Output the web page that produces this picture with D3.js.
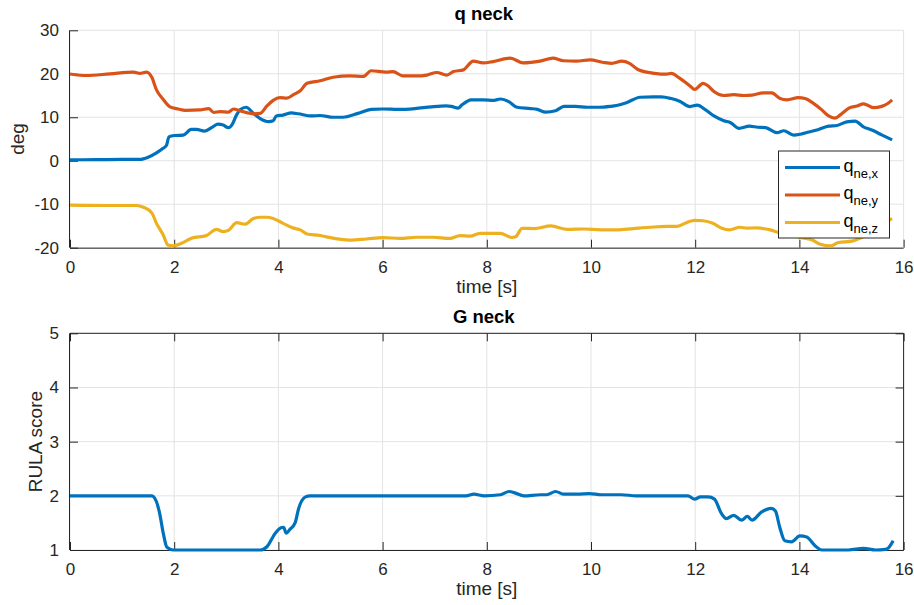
<!DOCTYPE html>
<html>
<head>
<meta charset="utf-8">
<script src="https://d3js.org/d3.v7.min.js"></script>
<style>
  body { margin: 0; background: #fff; }
  svg { font-family: "Liberation Sans", Arial, Helvetica, sans-serif; }
  .grid line { stroke: #e3e3e3; stroke-width: 1; }
  .axis path, .axis line { stroke: #262626; }
  .axis text { fill: #262626; font-size: 17px; }
  .lbl { fill: #262626; font-size: 19px; }
  .ttl { fill: #000; font-size: 18.5px; font-weight: bold; }
</style>
</head>
<body>
<svg id="chart" width="914" height="605"></svg>
<script>
(function() {

// time [s], value
var qneX = [[0,0.2],[0.5,0.25],[1.0,0.3],[1.34,0.3],[1.5,0.8],[1.66,1.8],[1.78,2.8],[1.85,3.5],[1.9,5.5],[2.0,5.8],[2.17,5.9],[2.33,7.2],[2.43,7.2],[2.58,6.8],[2.74,7.8],[2.84,8.4],[2.94,8.2],[3.04,7.6],[3.12,8.5],[3.2,10.6],[3.27,11.8],[3.38,12.3],[3.52,10.9],[3.65,9.7],[3.81,9.0],[3.9,9.2],[3.96,10.3],[4.09,10.5],[4.25,11.0],[4.38,10.8],[4.63,10.3],[4.8,10.4],[5.05,10.0],[5.24,10.0],[5.53,10.9],[5.78,11.8],[6.0,11.9],[6.3,11.8],[6.62,12.0],[6.94,12.4],[7.22,12.6],[7.32,12.5],[7.45,12.1],[7.52,12.8],[7.7,14.0],[7.93,14.0],[8.14,13.9],[8.26,14.2],[8.42,13.6],[8.58,12.3],[8.84,12.0],[8.97,11.8],[9.13,11.2],[9.32,11.5],[9.48,12.5],[9.7,12.5],[9.93,12.3],[10.15,12.3],[10.37,12.5],[10.49,12.7],[10.68,13.35],[10.94,14.6],[11.2,14.7],[11.35,14.7],[11.54,14.3],[11.7,13.7],[11.9,12.45],[12.04,12.8],[12.2,11.7],[12.36,10.3],[12.55,9.2],[12.68,8.75],[12.84,7.45],[13.04,7.95],[13.2,7.7],[13.35,7.6],[13.57,6.45],[13.7,6.9],[13.89,5.9],[14.02,6.1],[14.18,6.6],[14.37,7.2],[14.56,7.95],[14.72,8.1],[14.91,8.95],[15.07,9.1],[15.23,7.8],[15.39,7.05],[15.59,5.9],[15.78,4.8]];

var qneY = [[0,19.95],[0.32,19.6],[0.77,20.0],[1.22,20.4],[1.34,20.1],[1.47,20.4],[1.57,19.2],[1.66,16.3],[1.79,14.1],[1.92,12.4],[2.08,11.9],[2.21,11.6],[2.5,11.7],[2.66,12.0],[2.76,11.1],[2.88,11.3],[3.04,11.2],[3.14,11.9],[3.26,11.5],[3.52,10.8],[3.65,10.9],[3.78,12.6],[3.9,13.9],[4.03,14.5],[4.16,14.4],[4.29,15.2],[4.42,16.1],[4.55,17.8],[4.8,18.4],[5.05,19.2],[5.37,19.5],[5.63,19.4],[5.78,20.7],[6.07,20.4],[6.2,20.5],[6.39,19.5],[6.65,19.5],[6.85,19.7],[7.04,20.3],[7.23,19.7],[7.36,20.5],[7.55,20.9],[7.74,22.9],[7.93,22.5],[8.12,22.8],[8.45,23.6],[8.7,22.5],[9.02,22.9],[9.27,23.6],[9.47,23.0],[9.72,22.9],[9.98,23.2],[10.24,22.6],[10.4,22.4],[10.59,22.9],[10.74,22.4],[10.9,21.0],[11.22,20.1],[11.45,19.9],[11.54,20.1],[11.7,19.0],[11.9,17.2],[11.99,16.4],[12.15,17.8],[12.25,17.2],[12.36,15.9],[12.55,15.0],[12.74,15.2],[12.93,15.0],[13.09,15.1],[13.31,15.6],[13.47,15.6],[13.63,14.3],[13.76,14.0],[13.98,14.5],[14.11,14.3],[14.27,13.2],[14.43,11.7],[14.56,10.3],[14.68,9.8],[14.79,10.6],[14.95,12.1],[15.11,12.6],[15.23,13.1],[15.42,12.2],[15.58,12.5],[15.69,13.1],[15.78,14.0]];

var qneZ = [[0,-10.2],[0.77,-10.3],[1.28,-10.3],[1.41,-10.7],[1.57,-12.0],[1.66,-14.4],[1.79,-17.1],[1.88,-19.4],[1.98,-19.6],[2.14,-19.0],[2.33,-17.85],[2.62,-17.2],[2.81,-15.8],[2.94,-16.3],[3.04,-16.0],[3.2,-14.25],[3.36,-14.6],[3.52,-13.3],[3.65,-13.0],[3.78,-13.0],[3.9,-13.3],[4.09,-14.4],[4.29,-15.5],[4.42,-15.9],[4.55,-16.85],[4.8,-17.2],[4.92,-17.5],[5.37,-18.25],[5.69,-18.0],[6.01,-17.7],[6.33,-17.85],[6.65,-17.6],[6.97,-17.6],[7.29,-17.85],[7.49,-17.2],[7.68,-17.35],[7.87,-16.7],[8.26,-16.7],[8.48,-17.65],[8.55,-17.5],[8.68,-15.55],[8.91,-15.6],[9.23,-15.0],[9.55,-15.8],[9.87,-15.7],[10.2,-15.9],[10.49,-15.9],[10.81,-15.6],[11.13,-15.3],[11.45,-15.1],[11.64,-15.1],[11.83,-14.25],[11.99,-13.7],[12.15,-13.8],[12.34,-14.4],[12.5,-15.45],[12.66,-15.9],[12.86,-15.3],[12.99,-15.5],[13.18,-15.45],[13.44,-15.9],[13.6,-16.5],[13.8,-17.0],[14.0,-17.6],[14.25,-18.25],[14.4,-19.2],[14.6,-19.6],[14.75,-18.8],[15.01,-18.5],[15.2,-17.6],[15.4,-16.5],[15.6,-14.5],[15.78,-13.3]];

var gNeck = [[0,2],[1.57,2],[1.66,1.89],[1.72,1.68],[1.79,1.31],[1.86,1.05],[1.98,1.0],[3.65,1.0],[3.78,1.06],[3.94,1.31],[4.05,1.41],[4.1,1.42],[4.15,1.31],[4.22,1.38],[4.32,1.5],[4.39,1.77],[4.52,1.98],[4.61,2.0],[7.6,2.0],[7.75,2.03],[7.95,2.0],[8.26,2.02],[8.43,2.08],[8.55,2.05],[8.71,2.0],[9.03,2.02],[9.15,2.02],[9.32,2.08],[9.48,2.03],[9.74,2.03],[9.97,2.04],[10.2,2.02],[10.58,2.02],[10.87,2.0],[11.86,2.0],[11.99,1.94],[12.1,1.98],[12.25,1.98],[12.37,1.94],[12.5,1.68],[12.6,1.58],[12.74,1.64],[12.89,1.55],[13.0,1.62],[13.09,1.55],[13.27,1.7],[13.46,1.77],[13.54,1.72],[13.62,1.43],[13.72,1.17],[13.85,1.15],[14.01,1.26],[14.14,1.24],[14.3,1.08],[14.43,1.0],[14.94,1.0],[15.23,1.03],[15.46,1.0],[15.65,1.01],[15.71,1.04],[15.8,1.17]];

var seriesNames = ["ne,x", "ne,y", "ne,z"];
var colors = ["#0072BD", "#D95319", "#EDB120"];

var xTicks = [0, 2, 4, 6, 8, 10, 12, 14, 16];
var qTicks = [-20, -10, 0, 10, 20, 30];
var gTicks = [1, 2, 3, 4, 5];

var svg = d3.select("#chart");

var left = 70, right = 903.6, tickLen = 8;
var fmt = function(d) { return String(d); }; // plain hyphen minus

var x = d3.scaleLinear().domain([0, 16]).range([left, right]);
var yq = d3.scaleLinear().domain([-20, 30]).range([247.7, 30.3]);
var yg = d3.scaleLinear().domain([1, 5]).range([550, 333.3]);

function drawAxes(y, yTicks, boxOn, title, ylabel, ylabelX) {
  var top = y.range()[1], bottom = y.range()[0];
  var g = svg.append("g");

  // grid
  var grid = g.append("g").attr("class", "grid");
  grid.selectAll(".gx").data(xTicks).enter().append("line")
      .attr("x1", function(d) { return x(d); }).attr("x2", function(d) { return x(d); })
      .attr("y1", top).attr("y2", bottom);
  grid.selectAll(".gy").data(yTicks).enter().append("line")
      .attr("x1", left).attr("x2", right)
      .attr("y1", function(d) { return y(d); }).attr("y2", function(d) { return y(d); });

  g.append("g")
      .attr("class", "axis")
      .attr("transform", "translate(0," + bottom + ")")
      .call(d3.axisBottom(x).tickValues(xTicks).tickFormat(fmt).tickSizeInner(-tickLen).tickSizeOuter(0).tickPadding(tickLen + 5))
      .call(function(a) { a.select(".domain").attr("d", "M" + left + ",0.5H" + right); });

  g.append("g")
      .attr("class", "axis")
      .attr("transform", "translate(" + left + ",0)")
      .call(d3.axisLeft(y).tickValues(yTicks).tickFormat(fmt).tickSizeInner(-tickLen).tickSizeOuter(0).tickPadding(tickLen + 3))
      .call(function(a) { a.select(".domain").attr("d", "M-0.5," + top + "V" + bottom); });

  if (boxOn) {
    g.append("g")
        .attr("class", "axis")
        .attr("transform", "translate(0," + top + ")")
        .call(d3.axisTop(x).tickValues(xTicks).tickSizeInner(-tickLen).tickSizeOuter(0).tickFormat(""))
        .call(function(a) { a.select(".domain").attr("d", "M" + left + ",0H" + right); });
    g.append("g")
        .attr("class", "axis")
        .attr("transform", "translate(" + right + ",0)")
        .call(d3.axisRight(y).tickValues(yTicks).tickSizeInner(-tickLen).tickSizeOuter(0).tickFormat(""))
        .call(function(a) { a.select(".domain").attr("d", "M0," + top + "V" + bottom); });
  }

  g.append("text")
      .attr("class", "ttl")
      .attr("x", (left + right) / 2 - 3)
      .attr("y", top - 10)
      .attr("text-anchor", "middle")
      .text(title);

  g.append("text")
      .attr("class", "lbl")
      .attr("x", (left + right) / 2)
      .attr("y", bottom + 45)
      .attr("text-anchor", "middle")
      .text("time [s]");

  g.append("text")
      .attr("class", "lbl")
      .attr("transform", "translate(" + ylabelX + "," + (top + bottom) / 2 + ") rotate(-90)")
      .attr("text-anchor", "middle")
      .text(ylabel);

  return g;
}

var gq = drawAxes(yq, qTicks, false, "q neck", "deg", 24);
var gg = drawAxes(yg, gTicks, true, "G neck", "RULA score", 42);

svg.append("clipPath").attr("id", "clipq")
  .append("rect").attr("x", left).attr("y", 28).attr("width", right - left + 2).attr("height", 222);
svg.append("clipPath").attr("id", "clipg")
  .append("rect").attr("x", left).attr("y", 331).attr("width", right - left + 2).attr("height", 222);

var lineQ = d3.line()
    .x(function(d) { return x(d[0]); })
    .y(function(d) { return yq(d[1]); })
    .curve(d3.curveMonotoneX);

var lineG = d3.line()
    .x(function(d) { return x(d[0]); })
    .y(function(d) { return yg(d[1]); })
    .curve(d3.curveMonotoneX);

gq.append("g").attr("clip-path", "url(#clipq)")
  .selectAll(".qline")
  .data([qneX, qneY, qneZ])
  .enter()
  .append("path")
  .attr("class", "qline")
  .attr("fill", "none")
  .attr("stroke", function(d, i) { return colors[i]; })
  .attr("stroke-width", 3.2)
  .attr("stroke-linejoin", "round")
  .attr("d", lineQ);

gg.append("g").attr("clip-path", "url(#clipg)")
  .append("path")
  .datum(gNeck)
  .attr("fill", "none")
  .attr("stroke", colors[0])
  .attr("stroke-width", 3.2)
  .attr("stroke-linejoin", "round")
  .attr("d", lineG);

// legend
var legend = svg.append("g").attr("transform", "translate(778.5,151)");
legend.append("rect")
    .attr("width", 111)
    .attr("height", 87)
    .attr("fill", "#fff")
    .attr("stroke", "#262626")
    .attr("stroke-width", 1);

var items = legend.selectAll(".item")
    .data(seriesNames)
    .enter()
    .append("g")
    .attr("class", "item")
    .attr("transform", function(d, i) { return "translate(0," + (16.5 + i * 27.5) + ")"; });

items.append("line")
    .attr("x1", 6.5).attr("x2", 61.5)
    .attr("stroke", function(d, i) { return colors[i]; })
    .attr("stroke-width", 3.2);

var lt = items.append("text")
    .attr("x", 65)
    .attr("y", 4)
    .attr("fill", "#000")
    .style("font-size", "18px");
lt.append("tspan").text("q");
lt.append("tspan")
    .attr("dy", 6)
    .style("font-size", "13px")
    .text(function(d) { return d; });

})();
</script>
</body>
</html>
